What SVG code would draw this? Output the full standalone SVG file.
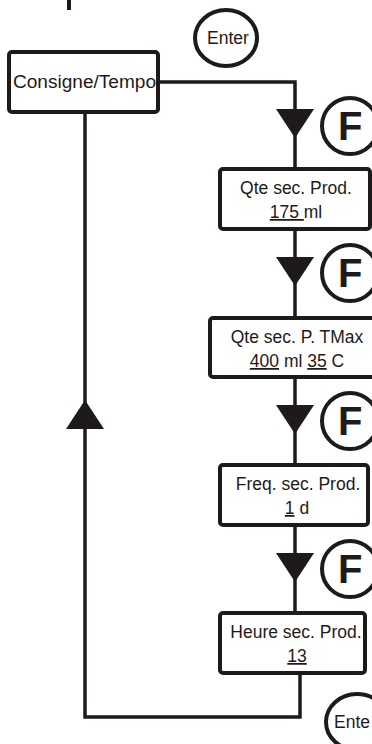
<svg xmlns="http://www.w3.org/2000/svg" width="372" height="744" viewBox="0 0 372 744">
<style>
.box{fill:#fff;stroke:#1e1a1a;stroke-width:4}
.circ{fill:none;stroke:#1e1a1a;stroke-width:4}
.line{fill:none;stroke:#1e1a1a;stroke-width:3.5}
.tri{fill:#1e1a1a}
.t{font-family:"Liberation Sans",Arial,sans-serif;font-size:17.5px;fill:#1e1a1a}
.m{text-anchor:middle}
.f{font-family:"Liberation Sans",Arial,sans-serif;font-size:40px;font-weight:bold;fill:#1e1a1a}
.u{text-decoration:underline}
</style>
<rect x="0" y="0" width="372" height="744" fill="#fff"/>
<rect x="67" y="0" width="4" height="10" fill="#1e1a1a"/>

<g id="connectors">
  <path class="line" d="M158,82 H295 V169"/>
  <path class="line" d="M295,229 V318"/>
  <path class="line" d="M295,377 V465"/>
  <path class="line" d="M295,525 V613"/>
  <path class="line" d="M300,673 V717 H85 V112"/>
  <polygon class="tri" points="276,109 314,109 295,138"/>
  <polygon class="tri" points="276,257 314,257 295,286"/>
  <polygon class="tri" points="276,405 314,405 295,434"/>
  <polygon class="tri" points="276,553 314,553 295,582"/>
  <polygon class="tri" points="66,429 104,429 85,400"/>
</g>

<g id="enter-top">
  <ellipse class="circ" cx="226" cy="38" rx="31" ry="28"/>
  <text class="t m" x="228" y="44" font-size="18.5">Enter</text>
</g>

<g id="consigne">
  <rect class="box" x="9" y="52" width="149" height="60" rx="3"/>
  <text class="t" x="13" y="88" textLength="143" lengthAdjust="spacingAndGlyphs">Consigne/Tempo</text>
</g>

<g id="f1">
  <circle class="circ" cx="350" cy="126" r="28"/>
  <text class="f" x="338" y="140">F</text>
</g>

<g id="qte-prod">
  <rect class="box" x="220" y="169" width="150" height="60" rx="3"/>
  <text class="t m" x="296" y="194">Qte sec. Prod.</text>
  <text class="t m" x="296" y="218"><tspan class="u">175 </tspan>ml</text>
</g>

<g id="f2">
  <circle class="circ" cx="350" cy="273" r="28"/>
  <text class="f" x="338" y="287">F</text>
</g>

<g id="qte-tmax">
  <rect class="box" x="210" y="318" width="170" height="59" rx="3"/>
  <text class="t m" x="297" y="343">Qte sec. P. TMax</text>
  <text class="t m" x="297" y="367"><tspan class="u">400</tspan> ml <tspan class="u">35</tspan> C</text>
</g>

<g id="f3">
  <circle class="circ" cx="350" cy="421" r="28"/>
  <text class="f" x="338" y="435">F</text>
</g>

<g id="freq-prod">
  <rect class="box" x="220" y="465" width="148" height="60" rx="3"/>
  <text class="t m" x="298" y="490">Freq. sec. Prod.</text>
  <text class="t m" x="297" y="514"><tspan class="u">1</tspan> d</text>
</g>

<g id="f4">
  <circle class="circ" cx="350" cy="569" r="28"/>
  <text class="f" x="338" y="583">F</text>
</g>

<g id="heure-prod">
  <rect class="box" x="220" y="613" width="145" height="60" rx="3"/>
  <text class="t m" x="296" y="638">Heure sec. Prod.</text>
  <text class="t m" x="297" y="662"><tspan class="u">13</tspan></text>
</g>

<g id="enter-bottom">
  <ellipse class="circ" cx="357" cy="722" rx="31" ry="28"/>
  <text class="t" x="334" y="728" font-size="18.5">Ente</text>
</g>
</svg>
